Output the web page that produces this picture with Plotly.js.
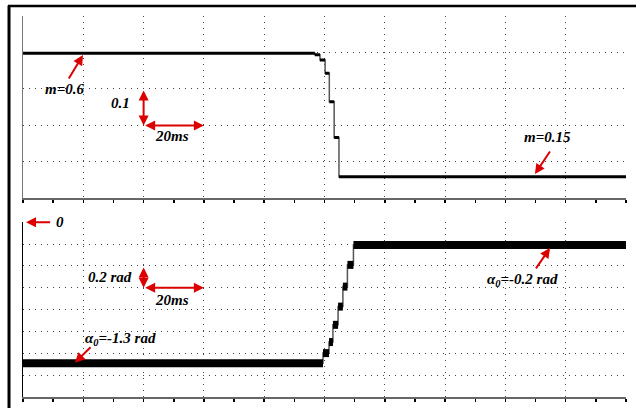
<!DOCTYPE html>
<html>
<head>
<meta charset="utf-8">
<script src="https://cdn.plot.ly/plotly-3.0.1.min.js"></script>
<style>
  html, body { margin: 0; padding: 0; background: #fff; }
  #chart { width: 636px; height: 408px; }
</style>
</head>
<body>
<div id="chart"></div>
<script>
// ---- data (time in ms, 20 ms per division) ----
// Top panel: modulation index m (0.1 per division)
const tTop = [0, 96.8, 98.5, 100.2, 101.6, 103.2, 104.8, 200];
const mTop = [0.598, 0.594, 0.579, 0.543, 0.465, 0.367, 0.259, 0.259];
// Bottom panel: angle alpha0 in rad (0.2 rad per division)
const tBot = [0, 99.5, 101.5, 102.8, 104.5, 106.1, 107.6, 109.6, 200];
const aBot = [-1.29, -1.198, -1.097, -0.939, -0.772, -0.589, -0.39, -0.208, -0.208];

// build plateau segments (thick) separated by gaps
function plateaus(t, v) {
  const xs = [], ys = [];
  for (let i = 0; i < t.length - 1; i++) {
    xs.push(t[i], t[i + 1], null);
    ys.push(v[i], v[i], null);
  }
  return { xs, ys };
}
const pTop = plateaus(tTop, mTop);
const pBot = plateaus(tBot, aBot);

const traces = [
  { x: tTop, y: mTop, mode: 'lines', line: { shape: 'hv', color: '#555', width: 1.5 }, xaxis: 'x', yaxis: 'y', hoverinfo: 'skip' },
  { x: pTop.xs, y: pTop.ys, mode: 'lines', line: { color: '#000', width: 3 }, xaxis: 'x', yaxis: 'y', connectgaps: false, hoverinfo: 'skip' },
  { x: tBot, y: aBot, mode: 'lines', line: { shape: 'hv', color: '#555', width: 1.5 }, xaxis: 'x2', yaxis: 'y2', hoverinfo: 'skip' },
  { x: pBot.xs, y: pBot.ys, mode: 'lines', line: { color: '#000', width: 8 }, xaxis: 'x2', yaxis: 'y2', connectgaps: false, hoverinfo: 'skip' }
];

const gridDash = '1px,5px';
function xAxis(anchor) {
  return {
    anchor: anchor, range: [0, 200], dtick: 20, tick0: 0,
    showgrid: true, gridcolor: '#444', griddash: gridDash, gridwidth: 1,
    showline: true, linecolor: '#666', linewidth: 1.5,
    ticks: 'outside', ticklen: 3, tickwidth: 1.5, tickcolor: '#000',
    minor: { dtick: 10, ticks: 'outside', ticklen: 3, tickwidth: 1.5, tickcolor: '#000', showgrid: false },
    showticklabels: false, zeroline: false, fixedrange: true
  };
}
function yAxis(anchor, range, dtick, domain, lc) {
  return {
    anchor: anchor, range: range, dtick: dtick, tick0: 0, domain: domain,
    showgrid: true, gridcolor: '#444', griddash: gridDash, gridwidth: 1,
    showline: true, linecolor: lc, linewidth: 1.5,
    ticks: '', showticklabels: false, zeroline: false, fixedrange: true
  };
}

const red = 'rgb(220,0,0)';
const tf = { family: 'Liberation Serif, Times New Roman, serif', size: 15, color: '#000', weight: 'bold', style: 'italic' };

function txt(x, y, text, xr, yr) {
  return { x: x, y: y, xref: xr, yref: yr, text: text, showarrow: false, font: tf };
}
function arr(x0, y0, x1, y1, xr, yr, both) {
  return {
    x: x1, y: y1, ax: x0, ay: y0, xref: xr, yref: yr, axref: xr, ayref: yr,
    text: '', showarrow: true, arrowcolor: red, arrowwidth: 2, arrowhead: 2, arrowsize: 1,
    startarrowhead: 2, startarrowsize: 1, arrowside: both ? 'end+start' : 'end',
    standoff: 0, startstandoff: 0
  };
}

const annotations = [
  // top panel
  txt(13.9, 0.50, 'm=0.6', 'x', 'y'),
  arr(14.9, 0.5245, 19.9, 0.593, 'x', 'y', false),
  txt(32.2, 0.461, '0.1', 'x', 'y'),
  arr(40, 0.5, 40, 0.4, 'x', 'y', true),
  arr(40, 0.4, 60, 0.4, 'x', 'y', true),
  txt(49.4, 0.371, '20ms', 'x', 'y'),
  txt(174.1, 0.368, 'm=0.15', 'x', 'y'),
  arr(175.1, 0.3325, 169.8, 0.2666, 'x', 'y', false),
  // bottom panel
  txt(12.3, 0, '0', 'x2', 'y2'),
  arr(9.5, 0, 1.0, 0, 'x2', 'y2', false),
  txt(28.9, -0.5, '0.2 rad', 'x2', 'y2'),
  arr(40, -0.4, 40, -0.6, 'x2', 'y2', true),
  arr(40, -0.6, 60, -0.6, 'x2', 'y2', true),
  txt(49.4, -0.71, '20ms', 'x2', 'y2'),
  txt(32.5, -1.067, 'α<sub>0</sub>=-1.3 rad', 'x2', 'y2'),
  arr(22.9, -1.131, 17.2, -1.286, 'x2', 'y2', false),
  txt(165.8, -0.528, 'α<sub>0</sub>=-0.2 rad', 'x2', 'y2'),
  arr(169.8, -0.436, 174.8, -0.235, 'x2', 'y2', false)
];

// outer frame (left and top border) in paper coords
const shapes = [
  { type: 'line', xref: 'paper', yref: 'paper', x0: -0.0232, x1: -0.0232, y0: -0.05, y1: 1.027, line: { color: '#000', width: 3 } },
  { type: 'line', xref: 'paper', yref: 'paper', x0: -0.025, x1: 1.02, y0: 1.0265, y1: 1.0265, line: { color: '#000', width: 2.5 } }
];

const layout = {
  width: 636, height: 408,
  margin: { l: 23, r: 10, t: 16, b: 11, pad: 0 },
  paper_bgcolor: '#fff', plot_bgcolor: '#fff',
  showlegend: false,
  xaxis: xAxis('y'),
  yaxis: yAxis('x', [0.2, 0.7], 0.1, [0.5215, 1], '#777'),
  xaxis2: xAxis('y2'),
  yaxis2: yAxis('x2', [-1.6, 0], 0.2, [0, 0.4585], '#000'),
  annotations: annotations,
  shapes: shapes
};

Plotly.newPlot('chart', traces, layout, { staticPlot: true, displayModeBar: false });
</script>
</body>
</html>
